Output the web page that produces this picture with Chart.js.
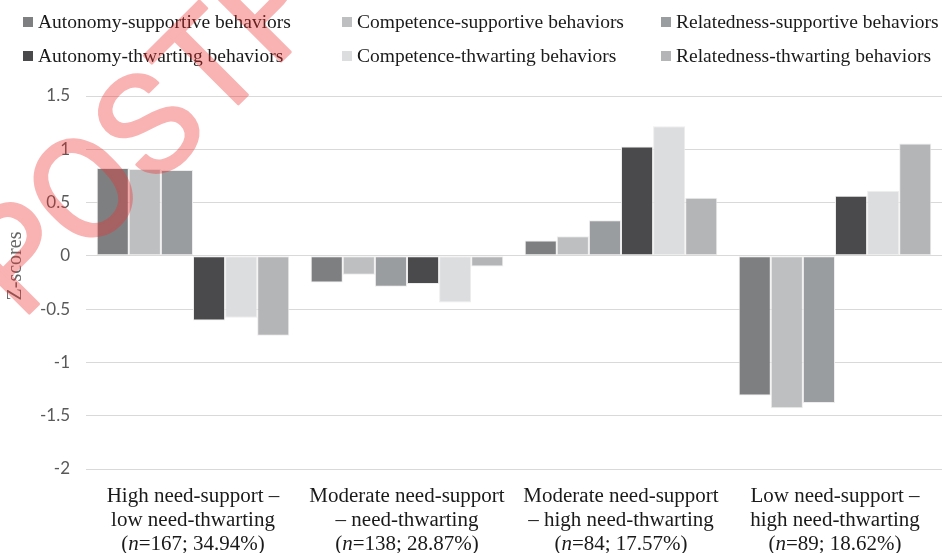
<!DOCTYPE html>
<html>
<head>
<meta charset="utf-8">
<script src="https://cdn.jsdelivr.net/npm/chart.js@4"></script>
<style>
  html, body { margin: 0; padding: 0; background: #fff; }
  #wrap { position: relative; width: 942px; height: 553px; }
</style>
</head>
<body>
<div id="wrap"><canvas id="chart" width="942" height="553"></canvas></div>
<script>
// categories (one entry per group, three text lines each)
const CATEGORIES = [
  ['High need-support –', 'low need-thwarting', '(n=167; 34.94%)'],
  ['Moderate need-support', '– need-thwarting', '(n=138; 28.87%)'],
  ['Moderate need-support', '– high need-thwarting', '(n=84; 17.57%)'],
  ['Low need-support –', 'high need-thwarting', '(n=89; 18.62%)'],
];

const SERIES_NAMES = [
  'Autonomy-supportive behaviors',
  'Competence-supportive behaviors',
  'Relatedness-supportive behaviors',
  'Autonomy-thwarting behaviors',
  'Competence-thwarting behaviors',
  'Relatedness-thwarting behaviors',
];

const AUT_SUP  = [0.825, -0.25, 0.145, -1.31];
const COMP_SUP = [0.815, -0.178, 0.185, -1.43];
const REL_SUP  = [0.805, -0.29, 0.335, -1.38];
const AUT_THW  = [-0.607, -0.263, 1.025, 0.565];
const COMP_THW = [-0.58, -0.438, 1.215, 0.61];
const REL_THW  = [-0.75, -0.10, 0.545, 1.055];

const Y_TICKS = [1.5, 1, 0.5, 0, -0.5, -1, -1.5, -2];

const COLORS = ['#7e7f81', '#bebfc1', '#9a9d9f', '#4a4a4c', '#dcdddf', '#b4b5b7'];

const SERIF = '"Liberation Serif", "Times New Roman", serif';

// legend drawn in fixed columns (2 rows x 3)
const legendColumns = {
  id: 'legendColumns',
  afterDraw(chart) {
    const ctx = chart.ctx;
    const colX = [23, 342, 661];
    const rowY = [22, 56];
    ctx.save();
    ctx.font = '19.5px ' + SERIF;
    ctx.textBaseline = 'middle';
    ctx.textAlign = 'left';
    SERIES_NAMES.forEach((name, i) => {
      const x = colX[i % 3];
      const y = rowY[Math.floor(i / 3)];
      ctx.fillStyle = COLORS[i];
      ctx.fillRect(x, y - 5, 10, 10);
      ctx.fillStyle = '#1a1a1a';
      ctx.fillText(name, x + 15, y + 1);
    });
    ctx.restore();
  },
};

// y title and category labels (three lines, italic "n"), stretched a little wide
const axisText = {
  id: 'axisText',
  afterDraw(chart) {
    const ctx = chart.ctx;
    const xs = chart.scales.x;
    ctx.save();
    // y title
    ctx.save();
    ctx.translate(16, 266);
    ctx.rotate(-Math.PI / 2);
    ctx.font = '20px ' + SERIF;
    ctx.fillStyle = '#666';
    ctx.textAlign = 'center';
    ctx.textBaseline = 'middle';
    ctx.fillText('Z-scores', 0, 0);
    ctx.restore();

    const sx = 1.05;
    ctx.fillStyle = '#1a1a1a';
    ctx.textBaseline = 'middle';
    ctx.textAlign = 'left';
    CATEGORIES.forEach((lines, i) => {
      const cx = xs.getPixelForTick(i);
      lines.forEach((line, j) => {
        const y = 497 + j * 24;
        const parts = line.startsWith('(n=')
          ? [['(', 'normal'], ['n', 'italic'], [line.slice(2), 'normal']]
          : [[line, 'normal']];
        let total = 0;
        parts.forEach(p => { ctx.font = p[1] + ' 20px ' + SERIF; total += ctx.measureText(p[0]).width; });
        ctx.save();
        ctx.translate(cx, y);
        ctx.scale(sx, 1);
        let x = -total / 2;
        parts.forEach(p => {
          ctx.font = p[1] + ' 20px ' + SERIF;
          ctx.fillText(p[0], x, 0);
          x += ctx.measureText(p[0]).width;
        });
        ctx.restore();
      });
    });
    ctx.restore();
  },
};

// red diagonal watermark on top of everything, drawn opaque off-screen then blended
const watermark = {
  id: 'watermark',
  afterDraw(chart) {
    const off = document.createElement('canvas');
    off.width = chart.width;
    off.height = chart.height;
    const o = off.getContext('2d');
    o.font = '142px Roboto, "Open Sans", sans-serif';
    o.fillStyle = o.strokeStyle = 'rgb(238, 45, 45)';
    o.lineWidth = 2.5;
    o.lineJoin = 'round';
    o.translate(82, 187);
    o.rotate(-Math.PI / 4);
    const wP = o.measureText('P').width;
    const wO = o.measureText('O').width;
    const x0 = -(wP + wO / 2);
    o.fillText('POSTPRINT', x0, 52);
    o.strokeText('POSTPRINT', x0, 52);

    const ctx = chart.ctx;
    ctx.save();
    ctx.globalAlpha = 0.36;
    ctx.drawImage(off, 0, 0);
    ctx.restore();
  },
};

const datasets = [AUT_SUP, COMP_SUP, REL_SUP, AUT_THW, COMP_THW, REL_THW].map((vals, i) => ({
  label: SERIES_NAMES[i],
  data: vals,
  backgroundColor: COLORS[i],
  borderColor: 'rgba(235,235,235,0.9)',
  borderWidth: 1,
  borderSkipped: false,
  barPercentage: 1,
  categoryPercentage: 0.9,
}));

new Chart(document.getElementById('chart'), {
  type: 'bar',
  data: { labels: CATEGORIES.map(c => c[0]), datasets },
  plugins: [legendColumns, axisText, watermark],
  options: {
    responsive: false,
    animation: false,
    layout: { padding: { top: 96, bottom: 0, left: 0, right: 0 } },
    plugins: { legend: { display: false }, tooltip: { enabled: false } },
    scales: {
      x: {
        grid: { display: false },
        border: { display: false },
        ticks: { display: false },
        afterFit: (s) => { s.height = 84; },
      },
      y: {
        min: -2,
        max: 1.5,
        afterBuildTicks: (s) => { s.ticks = Y_TICKS.map(v => ({ value: v })); },
        grid: { color: '#d9d9d9', lineWidth: 1, drawTicks: false },
        border: { display: false },
        ticks: {
          color: '#595959',
          font: { family: 'Lato, "Open Sans", sans-serif', size: 17 },
          padding: 16,
          callback: (v) => String(v),
        },
        afterFit: (s) => { s.width = 86; },
      },
    },
  },
});
</script>
</body>
</html>
